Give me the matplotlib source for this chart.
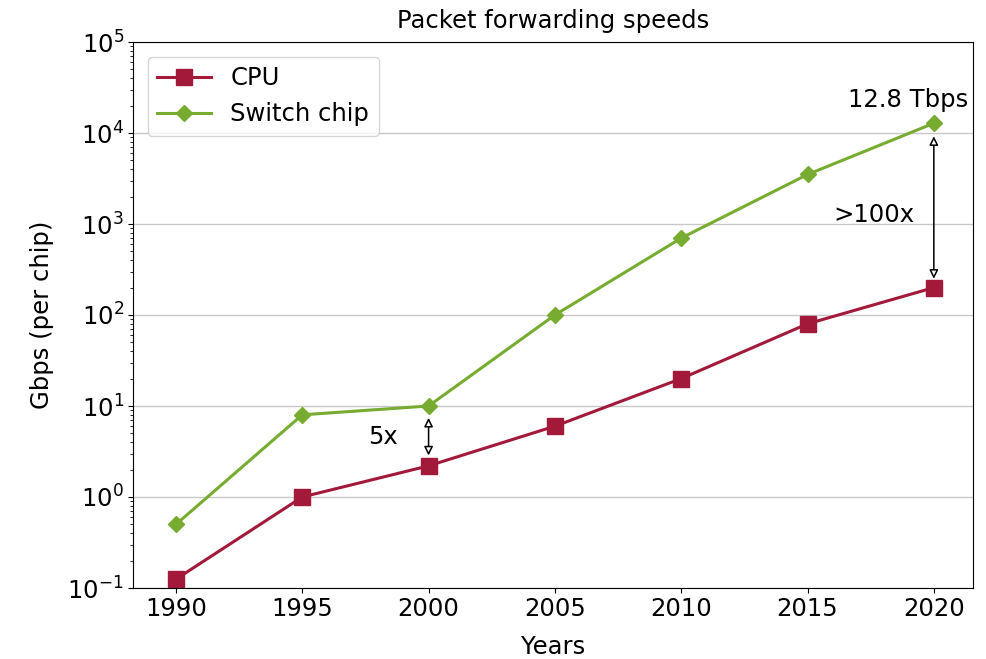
import matplotlib
matplotlib.use("Agg")
import matplotlib.pyplot as plt

years = [1990, 1995, 2000, 2005, 2010, 2015, 2020]
cpu = [0.125, 1, 2.2, 6, 20, 80, 200]
switch = [0.5, 8, 10, 100, 700, 3500, 12800]
xticks = [1990, 1995, 2000, 2005, 2010, 2015, 2020]

cpu_color = "#A3193A"
sw_color = "#77AC30"

FS = 17.5
plt.rcParams['font.family'] = ['DejaVu Sans']
fig = plt.figure(figsize=(9.86, 6.59), dpi=100)
ax = fig.add_axes([133/986, 1-588/659, (973-133)/986, (588-42)/659])

ax.plot(years, cpu, color=cpu_color, marker='s', markersize=11.5, linewidth=2.2, label='CPU')
ax.plot(years, switch, color=sw_color, marker='D', markersize=8, linewidth=2.2, label='Switch chip')
ax.set_yscale('log')
ax.set_ylim(0.1, 1e5)
ax.set_xlim(1988.3, 2021.55)
ax.set_xticks(xticks)
ax.yaxis.grid(True, which='major', color='#c8c8c8', linewidth=1)
ax.set_axisbelow(True)
ax.tick_params(labelsize=FS, pad=3)
ax.set_xlabel('Years', fontsize=FS, labelpad=10)
ax.set_ylabel('Gbps (per chip)', fontsize=FS, labelpad=10)
ax.set_title('Packet forwarding speeds', fontsize=17.5, pad=10)

arrowprops = dict(arrowstyle='<|-|>', color='black', lw=1.1, shrinkA=0, shrinkB=0,
                  mutation_scale=13, fc='white')
ax.annotate('', xy=(2000, cpu[2]*1.3), xytext=(2000, switch[2]/1.35), arrowprops=arrowprops)
ax.text(1998.8, 4.57, '5x', fontsize=FS, ha='right', va='center')
ax.annotate('', xy=(2020, cpu[6]*1.25), xytext=(2020, switch[6]/1.39), arrowprops=arrowprops)
ax.text(2019.25, 1260, '>100x', fontsize=FS, ha='right', va='center')
ax.text(2021.35, 23000, '12.8 Tbps', fontsize=FS, ha='right', va='center')

leg = ax.legend(loc='upper left', fontsize=FS, frameon=True, borderpad=0.4,
                handlelength=2.2, borderaxespad=0.6)

fig.savefig('out.png', dpi=100)
